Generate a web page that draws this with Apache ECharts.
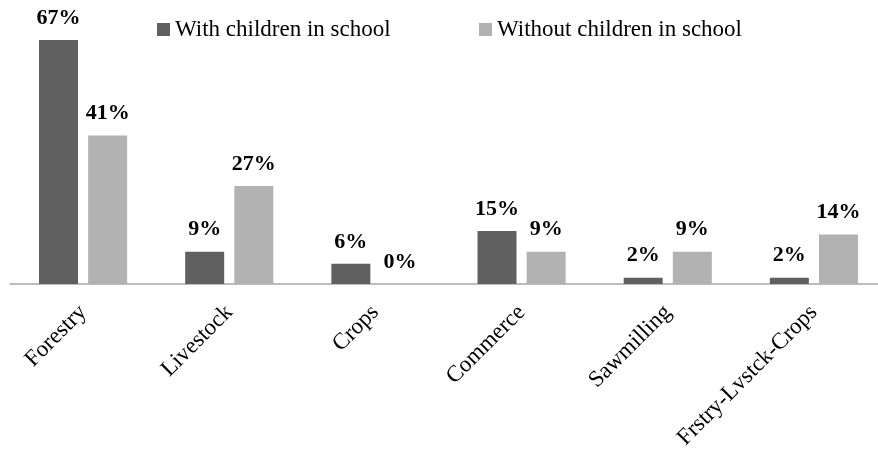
<!DOCTYPE html>
<html>
<head>
<meta charset="utf-8">
<script src="https://cdn.jsdelivr.net/npm/echarts@6/dist/echarts.min.js"></script>
<style>
html,body{margin:0;padding:0;background:#fff;overflow:hidden;width:878px;height:452px;}
#chart{width:887px;height:452px;}
</style>
</head>
<body>
<div id="chart"></div>
<script>
var categories = ['Forestry', 'Livestock', 'Crops', 'Commerce', 'Sawmilling', 'Frstry-Lvstck-Crops'];
var withChildren = [66.7, 8.8, 5.5, 14.5, 1.7, 1.7];
var withoutChildren = [40.6, 26.8, 0, 8.8, 8.8, 13.5];
var seriesNames = ['With children in school', 'Without children in school'];

var FONT = "'Liberation Serif', 'Times New Roman', serif";
var chart = echarts.init(document.getElementById('chart'), null, {renderer: 'canvas'});
var labelCfg = {
  show: true,
  position: 'top',
  distance: 11,
  fontFamily: FONT,
  fontSize: 22,
  fontWeight: 'bold',
  color: '#000',
  formatter: function (p) { return Math.round(p.value) + '%'; }
};
chart.setOption({
  animation: false,
  backgroundColor: '#fff',
  legend: [
    {
      data: [seriesNames[0]], left: 157, top: 18, padding: 0,
      itemWidth: 13, itemHeight: 13, icon: 'rect',
      textStyle: {fontFamily: FONT, fontSize: 23, color: '#000'}
    },
    {
      data: [seriesNames[1]], left: 479, top: 18, padding: 0,
      itemWidth: 13, itemHeight: 13, icon: 'rect',
      textStyle: {fontFamily: FONT, fontSize: 23, color: '#000'}
    }
  ],
  grid: {left: 10, top: 28, right: 0, bottom: 167, containLabel: false},
  xAxis: {
    type: 'category',
    data: categories,
    axisLine: {show: true, lineStyle: {color: '#a6a6a6', width: 1.5}},
    axisTick: {show: false},
    axisLabel: {
      rotate: 45, margin: 25, interval: 0,
      fontFamily: FONT, fontSize: 23, color: '#000'
    }
  },
  yAxis: {
    type: 'value', min: 0, max: 70, show: false,
    splitLine: {show: false}
  },
  series: [
    {
      name: seriesNames[0], type: 'bar', data: withChildren,
      barWidth: 39, barGap: '26%',
      itemStyle: {color: '#606060'},
      label: labelCfg
    },
    {
      name: seriesNames[1], type: 'bar', data: withoutChildren,
      barWidth: 39, barGap: '26%',
      itemStyle: {color: '#b2b2b2'},
      label: labelCfg
    }
  ]
});
</script>
</body>
</html>
